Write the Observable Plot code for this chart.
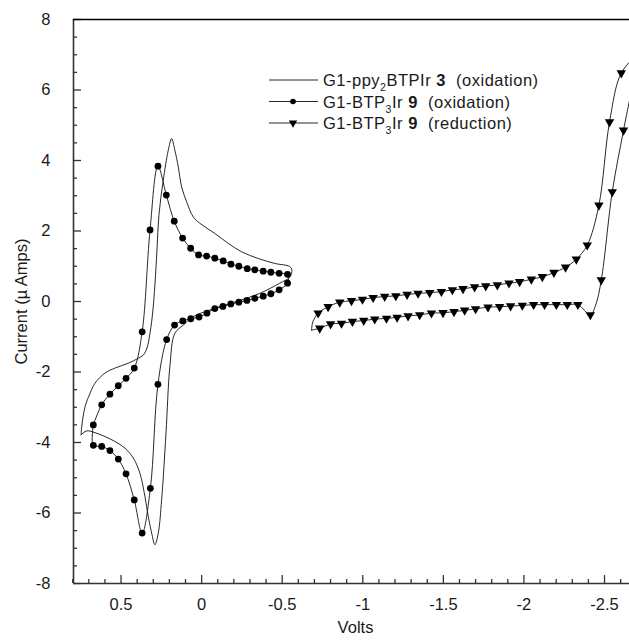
<!DOCTYPE html>
<html><head><meta charset="utf-8">
<script src="https://cdn.jsdelivr.net/npm/d3@7"></script>
<script src="https://cdn.jsdelivr.net/npm/@observablehq/plot@0.6"></script>
<style>body{margin:0;background:#fff;} #chart svg{display:block;}</style>
</head><body><div id="chart"></div>
<script>
// Axis settings
const xDomain = [0.795, -2.655];
const yDomain = [-8, 8];
const xMajor = [0.5, 0, -0.5, -1, -1.5, -2, -2.5];
const yMajor = [-8, -6, -4, -2, 0, 2, 4, 6, 8];
const xLabel = "Volts";
const yLabel = "Current (µ Amps)";

// Series 1: G1-ppy2BTPIr 3 (oxidation) — plain trace
const ppyV = [0.748, 0.744, 0.723, 0.692, 0.662, 0.600, 0.538, 0.455, 0.393, 0.362, 0.339, 0.320, 0.302, 0.290, 0.277, 0.265, 0.238, 0.207, 0.186, 0.166, 0.145, 0.124, 0.093, 0.052, 0.011, -0.082, -0.165, -0.248, -0.351, -0.454, -0.547, -0.560, -0.547, -0.485, -0.361, -0.217, -0.051, 0.052, 0.114, 0.166, 0.197, 0.221, 0.248, 0.269, 0.290, 0.310, 0.331, 0.352, 0.383, 0.424, 0.476, 0.538, 0.600, 0.662, 0.713, 0.748];
const ppyI = [-3.78, -3.55, -2.98, -2.60, -2.32, -2.03, -1.89, -1.75, -1.61, -1.52, -1.32, -0.89, -0.24, 0.47, 1.46, 2.45, 3.44, 4.29, 4.62, 4.29, 3.82, 3.25, 2.83, 2.40, 2.22, 1.93, 1.65, 1.41, 1.22, 1.08, 0.99, 0.89, 0.69, 0.52, 0.23, 0.00, -0.24, -0.43, -0.67, -0.90, -1.85, -3.73, -5.62, -6.57, -6.90, -6.57, -6.10, -5.53, -4.87, -4.44, -4.16, -3.97, -3.83, -3.72, -3.67, -3.78];

// Series 2: G1-BTP3Ir 9 (oxidation) — circles
const btpOxV = [0.672, 0.620, 0.569, 0.517, 0.469, 0.418, 0.369, 0.320, 0.271, 0.219, 0.170, 0.118, 0.068, 0.019, -0.031, -0.082, -0.134, -0.182, -0.231, -0.283, -0.330, -0.382, -0.430, -0.481, -0.533,
  -0.533, -0.481, -0.430, -0.382, -0.330, -0.281, -0.231, -0.181, -0.132, -0.082, -0.033, 0.016, 0.067, 0.117, 0.168, 0.217, 0.271, 0.318, 0.369, 0.418, 0.469, 0.517, 0.569, 0.620, 0.672];
const btpOxI = [-3.50, -2.93, -2.63, -2.39, -2.18, -1.89, -0.86, 2.03, 3.84, 3.02, 2.28, 1.80, 1.51, 1.32, 1.29, 1.23, 1.15, 1.06, 1.00, 0.93, 0.90, 0.86, 0.83, 0.80, 0.77,
  0.52, 0.33, 0.22, 0.15, 0.09, 0.03, -0.02, -0.07, -0.14, -0.20, -0.33, -0.44, -0.49, -0.55, -0.67, -1.08, -2.35, -5.30, -6.57, -5.63, -4.89, -4.47, -4.23, -4.11, -4.08];

// Series 3: G1-BTP3Ir 9 (reduction) — trace and triangle markers
const btpRedLineV = [-0.682, -0.733, -0.800, -0.868, -0.936, -1.006, -1.074, -1.147, -1.213, -1.281, -1.353, -1.426, -1.498, -1.566, -1.632, -1.700, -1.777, -1.849, -1.917, -1.990, -2.060, -2.128, -2.201, -2.269, -2.335, -2.412, -2.445, -2.480, -2.548, -2.618, -2.700,
  -2.700, -2.604, -2.531, -2.465, -2.393, -2.325, -2.258, -2.186, -2.114, -2.046, -1.973, -1.907, -1.835, -1.763, -1.694, -1.622, -1.556, -1.488, -1.415, -1.343, -1.275, -1.205, -1.136, -1.064, -0.998, -0.930, -0.857, -0.785, -0.723, -0.690, -0.682];
const btpRedLineI = [-0.81, -0.76, -0.64, -0.62, -0.57, -0.54, -0.50, -0.48, -0.45, -0.41, -0.38, -0.33, -0.32, -0.29, -0.25, -0.21, -0.16, -0.15, -0.13, -0.11, -0.09, -0.09, -0.09, -0.09, -0.09, -0.38, -0.10, 0.61, 3.11, 4.86, 6.80,
  6.95, 6.48, 5.09, 2.73, 1.60, 1.20, 0.97, 0.82, 0.70, 0.63, 0.56, 0.52, 0.47, 0.44, 0.41, 0.36, 0.33, 0.28, 0.25, 0.23, 0.20, 0.16, 0.14, 0.11, 0.06, 0.02, -0.02, -0.15, -0.33, -0.58, -0.81];
const btpRedMarkV = [-0.733, -0.800, -0.868, -0.936, -1.006, -1.074, -1.147, -1.213, -1.281, -1.353, -1.426, -1.498, -1.566, -1.632, -1.700, -1.777, -1.849, -1.917, -1.990, -2.060, -2.128, -2.201, -2.269, -2.335, -2.412, -2.480, -2.548, -2.618,
  -2.604, -2.531, -2.465, -2.393, -2.325, -2.258, -2.186, -2.114, -2.046, -1.973, -1.907, -1.835, -1.763, -1.694, -1.622, -1.556, -1.488, -1.415, -1.343, -1.275, -1.205, -1.136, -1.064, -0.998, -0.930, -0.857, -0.785, -0.723];
const btpRedMarkI = [-0.76, -0.64, -0.62, -0.57, -0.54, -0.50, -0.48, -0.45, -0.41, -0.38, -0.33, -0.32, -0.29, -0.25, -0.21, -0.16, -0.15, -0.13, -0.11, -0.09, -0.09, -0.09, -0.09, -0.09, -0.38, 0.61, 3.11, 4.86,
  6.48, 5.09, 2.73, 1.60, 1.20, 0.97, 0.82, 0.70, 0.63, 0.56, 0.52, 0.47, 0.44, 0.41, 0.36, 0.33, 0.28, 0.25, 0.23, 0.20, 0.16, 0.14, 0.11, 0.06, 0.02, -0.02, -0.15, -0.33];

// Legend
const legendMain = ["G1-ppy", "G1-BTP", "G1-BTP"];
const legendSub = ["2", "3", "3"];
const legendMid = ["BTPIr ", "Ir ", "Ir "];
const legendBold = ["3", "9", "9"];
const legendTail = ["  (oxidation)", "  (oxidation)", "  (reduction)"];
const legendMarker = ["none", "circle", "triangle"];

const zip = (V, I) => V.map((v, k) => ({v, i: I[k]}));
const ppy = zip(ppyV, ppyI);
const btpOx = zip(btpOxV, btpOxI);
const btpOxLoop = [...btpOx, btpOx[0]];
const redLine = zip(btpRedLineV, btpRedLineI);
const redMarks = zip(btpRedMarkV, btpRedMarkI);

const xMinor = d3.range(8, -27, -1).map(d => d / 10).filter(d => !xMajor.some(m => Math.abs(m - d) < 1e-9));
const yMinor = d3.range(-16, 17, 1).map(d => d / 2).filter(d => !yMajor.includes(d));

const ink = "#111";
const axisInk = "#333";
const font = "'Liberation Sans', Arial, sans-serif";

const chart = Plot.plot({
  width: 629, height: 642,
  marginLeft: 73, marginRight: 0, marginTop: 19, marginBottom: 59,
  x: {domain: xDomain},
  y: {domain: yDomain},
  style: {fontFamily: font, fontSize: "16.5px", color: "#1a1a1a", background: "#fff", overflow: "visible"},
  marks: [
    Plot.line(ppy, {x: "v", y: "i", stroke: ink, strokeWidth: 0.9, curve: "catmull-rom", clip: true}),
    Plot.line(btpOxLoop, {x: "v", y: "i", stroke: ink, strokeWidth: 0.9, curve: "catmull-rom", clip: true}),
    Plot.dot(btpOx, {x: "v", y: "i", r: 3.4, fill: "#000", stroke: "none", clip: true}),
    Plot.line(redLine, {x: "v", y: "i", stroke: ink, strokeWidth: 0.9, curve: "catmull-rom", clip: true}),
    Plot.dot(redMarks, {x: "v", y: "i", symbol: "triangle", r: 3.5, rotate: 180, fill: "#000", stroke: "none", clip: true}),
    Plot.axisX(xMinor, {tickSize: 4, dy: -4, tickFormat: () => "", stroke: axisInk, strokeWidth: 1.3, label: null}),
    Plot.axisX(xMajor, {tickSize: 8, dy: -8, tickPadding: 15, tickFormat: d => String(d), stroke: axisInk, strokeWidth: 1.3, label: null, fill: "#1a1a1a"}),
    Plot.axisY(yMinor, {tickSize: 4, dx: 4, tickFormat: () => "", stroke: axisInk, strokeWidth: 1.3, label: null}),
    Plot.axisY(yMajor, {tickSize: 8, dx: 8, tickPadding: 23, tickFormat: d => String(d), stroke: axisInk, strokeWidth: 1.3, label: null, fill: "#1a1a1a"}),
    Plot.ruleX([xDomain[0]], {stroke: axisInk, strokeWidth: 1.6}),
    Plot.ruleY([yDomain[0]], {stroke: axisInk, strokeWidth: 1.6}),
    Plot.ruleY([yDomain[1]], {stroke: "#000", strokeWidth: 1.6}),
    Plot.text([xLabel], {frameAnchor: "bottom", dy: 49, dx: 4, textAnchor: "middle", fill: "#1a1a1a"}),
    Plot.text([yLabel], {frameAnchor: "left", dx: -52, rotate: -90, textAnchor: "middle", fill: "#1a1a1a"})
  ]
});
document.getElementById("chart").append(chart);

// Legend block inside the plot area (top right)
const svg = d3.select(chart);
const lg = svg.append("g").attr("class", "legend")
  .attr("text-anchor", "start")
  .style("font-family", font).style("font-size", "16.5px");
const rowY = [80, 101.5, 123];
legendMain.forEach((m, k) => {
  const y = rowY[k];
  lg.append("line").attr("x1", 269).attr("x2", 318).attr("y1", y).attr("y2", y).attr("stroke", ink).attr("stroke-width", 0.9);
  if (legendMarker[k] === "circle") lg.append("circle").attr("cx", 293).attr("cy", y).attr("r", 2.8).attr("fill", "#000");
  if (legendMarker[k] === "triangle") lg.append("path").attr("d", d3.symbol(d3.symbolTriangle, 30)()).attr("transform", `translate(293,${y}) rotate(180)`).attr("fill", "#000");
  const t = lg.append("text").attr("x", 323).attr("y", y + 6).attr("fill", "#1a1a1a")
    .attr("text-anchor", "start").style("white-space", "pre").style("letter-spacing", "0.5px");
  t.append("tspan").text(m);
  t.append("tspan").attr("dy", 5).style("font-size", "10.5px").text(legendSub[k]);
  t.append("tspan").attr("dy", -5).text(legendMid[k]);
  t.append("tspan").attr("font-weight", "bold").text(legendBold[k]);
  t.append("tspan").text(legendTail[k]);
});
</script>
</body></html>
